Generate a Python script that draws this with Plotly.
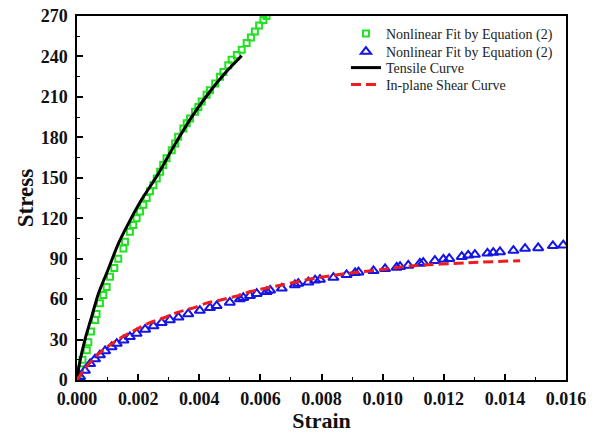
import plotly.graph_objects as go

# Nonlinear fit (tensile) - green squares
fit_t_strain = [0.00000, 0.00005, 0.00010, 0.00018, 0.00032, 0.00037, 0.00046, 0.00059, 0.00064, 0.00075,
                0.00086, 0.00097, 0.00108, 0.00122, 0.00135, 0.00152, 0.00157, 0.00173, 0.00184, 0.00195,
                0.00206, 0.00217, 0.00228, 0.00239, 0.00250, 0.00261, 0.00272, 0.00282, 0.00293, 0.00310,
                0.00321, 0.00331, 0.00348, 0.00359, 0.00370, 0.00386, 0.00397, 0.00408, 0.00424, 0.00435,
                0.00452, 0.00468, 0.00479, 0.00495, 0.00506, 0.00523, 0.00539, 0.00555, 0.00569, 0.00582,
                0.00596, 0.00610, 0.00620]
fit_t_stress = [0, 4, 8, 15, 22, 28, 36, 44.5, 49, 57,
                63, 69, 76.5, 83, 90, 97.5, 102.5, 110, 115, 120,
                125, 130, 135, 140, 144.5, 149.5, 154.5, 159.5, 164.5, 170.5,
                175.5, 180.5, 186.5, 190.5, 194, 199, 202.5, 206.5, 211.5, 215,
                220, 225, 228.5, 233.5, 237.5, 241, 245, 250, 254, 258.5,
                263, 267, 270]

# Nonlinear fit (in-plane shear) - blue triangles
fit_s_strain = [0.00000, 0.00010, 0.00026, 0.00043, 0.00059, 0.00075, 0.00092, 0.00113, 0.00130, 0.00152,
                0.00173, 0.00195, 0.00223, 0.00250, 0.00277, 0.00304, 0.00332, 0.00364, 0.00402, 0.00435,
                0.00457, 0.00500, 0.00533, 0.00544, 0.00566, 0.00588, 0.00621, 0.00632, 0.00670, 0.00713,
                0.00724, 0.00757, 0.00779, 0.00795, 0.00839, 0.00882, 0.00910, 0.00921, 0.00970, 0.01008,
                0.01046, 0.01057, 0.01084, 0.01122, 0.01133, 0.01171, 0.01199, 0.01218, 0.01259, 0.01280,
                0.01302, 0.01343, 0.01362, 0.01384, 0.01428, 0.01466, 0.01509, 0.01557, 0.01591]
fit_s_stress = [0, 2.5, 7, 12, 15.5, 18.5, 21.5, 24.5, 27, 29.5,
                32, 34.5, 37.5, 40, 42.5, 44.5, 46.5, 49, 51.5, 53.5,
                55, 57.5, 60, 61, 62.5, 64, 65.5, 66.5, 68, 70.5,
                71.5, 72.5, 74, 74.5, 76, 78, 79.5, 80, 81, 82.5,
                83.5, 84, 85, 86.5, 87, 88.5, 89.5, 90, 91.5, 92.5,
                93, 94, 94.5, 95, 96, 97.5, 98, 99.5, 100]

# Tensile curve - black line
tensile_strain = [0, 0.00008, 0.00026, 0.00048, 0.00070, 0.00102, 0.00135, 0.00168, 0.00212, 0.00266,
                  0.00321, 0.00375, 0.00430, 0.00484, 0.00539]
tensile_stress = [0, 12, 30, 47, 64, 82, 101, 116, 134, 153,
                  175, 195, 212.5, 227.5, 240.5]

# In-plane shear curve - red dashed
shear_strain = [0, 0.00026, 0.00064, 0.00102, 0.00141, 0.00190, 0.00233, 0.00283, 0.00326, 0.00381,
                0.00424, 0.00473, 0.00533, 0.00566, 0.00670, 0.00779, 0.00882, 0.01000, 0.01090, 0.01280, 0.01450]
shear_stress = [0, 8.5, 18, 25, 31, 37, 42, 46, 50, 53.5,
                57, 59.5, 63, 65.5, 70.5, 75.5, 79, 82, 84.5, 87, 88.5]

FONT = "Liberation Serif"
GREEN = "#22e022"
BLUE = "#1414e6"
RED = "#ee1c1c"

fig = go.Figure()
fig.add_trace(go.Scatter(x=fit_t_strain, y=fit_t_stress, mode="markers",
                         name="Nonlinear Fit by Equation (2)", legend="legend",
                         marker=dict(symbol="square-open", size=6, color=GREEN, line=dict(width=2, color=GREEN))))
fig.add_trace(go.Scatter(x=fit_s_strain, y=fit_s_stress, mode="markers",
                         name="Nonlinear Fit by Equation (2)", legend="legend2",
                         marker=dict(symbol="triangle-up-open", size=9, color=BLUE, line=dict(width=2, color=BLUE))))
fig.add_trace(go.Scatter(x=tensile_strain, y=tensile_stress, mode="lines", name="Tensile Curve",
                         legend="legend3",
                         line=dict(color="black", width=3, shape="spline", smoothing=0.8)))
fig.add_trace(go.Scatter(x=shear_strain, y=shear_stress, mode="lines", name="In-plane Shear Curve",
                         legend="legend4",
                         line=dict(color=RED, width=3, dash="10px,5px", shape="spline", smoothing=0.8)))

tickfont = dict(family=FONT, size=18, color="#111", weight="bold")
axis_common = dict(
    showline=True, linecolor="black", linewidth=1.5, mirror=True,
    ticks="inside", ticklen=6, tickwidth=1.5, tickcolor="black",
    showgrid=False, zeroline=False, tickfont=tickfont, automargin=False,
)

def leg(ypx):
    return dict(x=0.550, y=(380 - ypx) / 364, xanchor="left", yanchor="middle",
                bgcolor="rgba(0,0,0,0)", borderwidth=0,
                font=dict(family=FONT, size=14, color="#222"))

fig.update_layout(
    width=601, height=433,
    margin=dict(l=77, r=35, t=16, b=53),
    paper_bgcolor="white", plot_bgcolor="white",
    showlegend=True,
    legend=leg(34), legend2=leg(52), legend3=leg(68), legend4=leg(85),
    xaxis=dict(range=[0, 0.016], dtick=0.002, tick0=0, tickformat=".3f", ticklabelstandoff=2,
               minor=dict(ticks="inside", ticklen=3.5, tickwidth=1.2, tickcolor="black", dtick=0.001),
               title=dict(text="<b>Strain</b>", font=dict(family=FONT, size=22, color="#111"), standoff=0),
               **axis_common),
    yaxis=dict(range=[0, 270], dtick=30, tick0=0, ticklabelstandoff=4,
               minor=dict(ticks="inside", ticklen=3.5, tickwidth=1.2, tickcolor="black", dtick=15),
               title=dict(text="<b>Stress</b>", font=dict(family=FONT, size=23, color="#111"), standoff=1),
               **axis_common),
)

fig.write_html("out.html", config={"displayModeBar": False},
               post_script="document.body.style.margin='0px';")
